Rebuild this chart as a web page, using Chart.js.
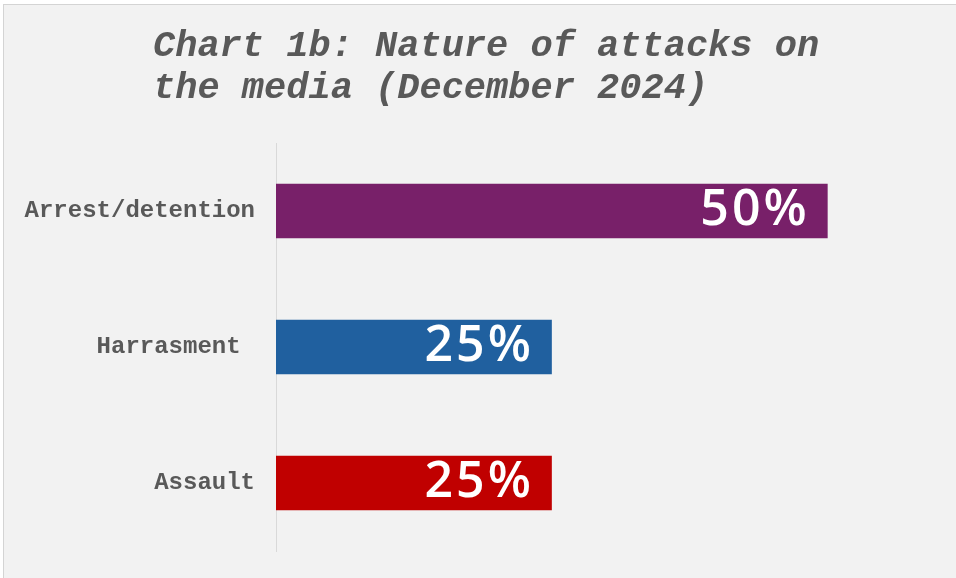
<!DOCTYPE html>
<html>
<head>
<meta charset="utf-8">
<script src="https://cdn.jsdelivr.net/npm/chart.js@4"></script>
<style>
  body { margin: 0; background: #ffffff; }
  #panel { position: absolute; left: 3px; top: 4px; width: 960px; height: 580px;
           background: #f2f2f2; border-top: 1px solid #d4d4d4; border-left: 1px solid #d4d4d4; }
  #wrap { position: absolute; left: 0; top: 0; width: 956px; height: 578px; }
</style>
</head>
<body>
<div id="panel"></div>
<div id="wrap"><canvas id="attackChart"></canvas></div>
<script>
const titleLines = ["Chart 1b: Nature of attacks on", "the media (December 2024)"];
const categories = ["Arrest/detention", "Harrasment ", "Assault"];
const shares = [50, 25, 25];
const barColors = ["#782069", "#20609f", "#c00000"];

// white value labels drawn inside the bar ends
const valueLabels = {
  id: "valueLabels",
  afterDatasetsDraw(chart) {
    const ctx = chart.ctx;
    const meta = chart.getDatasetMeta(0);
    ctx.save();
    ctx.fillStyle = "#ffffff";
    ctx.font = "600 50px 'Open Sans'";
    ctx.letterSpacing = "3px";
    ctx.textAlign = "right";
    ctx.textBaseline = "alphabetic";
    meta.data.forEach((bar, i) => {
      ctx.fillText(shares[i] + "%", bar.x - 18, bar.y + 14);
    });
    ctx.restore();
  }
};

// left aligned two line title
const leftTitle = {
  id: "leftTitle",
  afterDraw(chart) {
    const ctx = chart.ctx;
    ctx.save();
    ctx.fillStyle = "#595959";
    ctx.font = "italic bold 37px 'Liberation Mono'";
    ctx.textAlign = "left";
    ctx.textBaseline = "alphabetic";
    titleLines.forEach((line, i) => ctx.fillText(line, 153, 56 + i * 42));
    ctx.restore();
  }
};

new Chart(document.getElementById("attackChart"), {
  type: "bar",
  data: {
    labels: categories,
    datasets: [{
      data: shares,
      backgroundColor: barColors,
      categoryPercentage: 1,
      barPercentage: 0.4
    }]
  },
  options: {
    indexAxis: "y",
    responsive: true,
    maintainAspectRatio: false,
    animation: false,
    layout: { padding: { top: 143, bottom: 27, right: 18, left: 0 } },
    plugins: { legend: { display: false }, title: { display: false }, tooltip: { enabled: false } },
    scales: {
      x: { display: false, min: 0, max: 60 },
      y: {
        grid: { display: false, drawTicks: false },
        border: { display: true, color: "#d9d9d9", width: 1 },
        ticks: {
          color: "#595959",
          padding: 21,
          font: { family: "'Liberation Mono'", weight: "bold", size: 24 }
        },
        afterFit(scale) {
          scale.width = 276;
          scale.paddingTop = 0;
          scale.paddingBottom = 0;
        }
      }
    }
  },
  plugins: [valueLabels, leftTitle]
});
</script>
</body>
</html>
